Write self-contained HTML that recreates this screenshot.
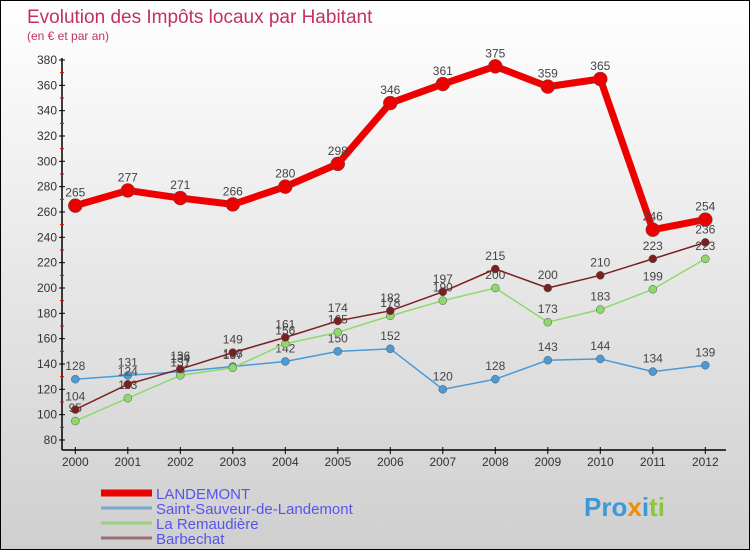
<!DOCTYPE html>
<html><head><meta charset="utf-8"><style>
body{margin:0;width:750px;height:550px;overflow:hidden;font-family:"Liberation Sans",sans-serif}
#wrap{position:relative;width:748px;height:548px;border:1px solid #000;background:linear-gradient(#ffffff,#cfcfcf)}
</style></head><body>
<div id="wrap">
<svg id="chart" width="748" height="548">
<text x="26" y="22" font-size="19" fill="#c0335e">Evolution des Impôts locaux par Habitant</text>
<text x="26" y="39" font-size="12" fill="#c0335e">(en € et par an)</text>
<g id="axes"></g><g id="series"></g><g id="legend"></g>
<text x="583" y="515" font-size="26" font-weight="bold" fill="#3a9ad9">Pro<tspan fill="#f08c00">x</tspan><tspan fill="#3a9ad9">i</tspan><tspan fill="#8cc63f">ti</tspan></text>
</svg></div>
<script>
const years=[2000,2001,2002,2003,2004,2005,2006,2007,2008,2009,2010,2011,2012];
const landemont=[265,277,271,266,280,298,346,361,375,359,365,246,254];
const saintSauveur=[128,131,134,138,142,150,152,120,128,143,144,134,139];
const remaudiere=[95,113,131,137,156,165,178,190,200,173,183,199,223];
const barbechat=[104,124,136,149,161,174,182,197,215,200,210,223,236];
const yTicks=[80,100,120,140,160,180,200,220,240,260,280,300,320,340,360,380];
const NS="http://www.w3.org/2000/svg";
function X(i){return 74.3+i*52.5;}
function Y(v){return 439-(v-80)*380/300;}
function mk(t,a,p){const e=document.createElementNS(NS,t);for(const k in a)e.setAttribute(k,a[k]);p.appendChild(e);return e;}
const ax=document.getElementById('axes');
const yl=mk('line',{x1:61,y1:Y(380)-2,x2:61,y2:449,stroke:'#000','stroke-width':1.5},ax);


const xl=mk('line',{x1:61,y1:449,x2:725,y2:449,stroke:'#000','stroke-width':1.5},ax);


yTicks.forEach((v,i)=>{
 mk('line',{x1:58,y1:Y(v),x2:64,y2:Y(v),stroke:'#000'},ax);
 if(i<yTicks.length-1)mk('line',{x1:59,y1:Y(v+10),x2:63,y2:Y(v+10),stroke:'#e00'},ax);
 const t=mk('text',{x:56,y:Y(v)+4,'font-size':12,'text-anchor':'end',fill:'#333'},ax);
 t.textContent=v;
 
 
});
years.forEach((y,i)=>{
 mk('line',{x1:X(i),y1:446,x2:X(i),y2:453,stroke:'#000'},ax);
 const t=mk('text',{x:X(i),y:465,'font-size':12,'text-anchor':'middle',fill:'#333'},ax);
 t.textContent=y;
 
 
});
const sg=document.getElementById('series');
function series(data,color,w,r,name,labelColor){
 const g=mk('g',{},sg);
 
 
 mk('polyline',{points:data.map((v,i)=>X(i)+','+Y(v)).join(' '),fill:'none',stroke:color,'stroke-width':w,'stroke-linejoin':'round'},g);
 data.forEach((v,i)=>{
  const c=mk('circle',{cx:X(i),cy:Y(v),r:r,fill:color,stroke:'#555','stroke-width':0.5},g);
  
  
  const t=mk('text',{x:X(i),y:Y(v)-9,'font-size':12,'text-anchor':'middle',fill:'#444'},g);
  t.textContent=v;
  
  
 });
}
series(saintSauveur,'#4a9ad6',1.5,4,'saint-sauveur-series');
series(remaudiere,'#8fd96a',1.5,4,'la-remaudiere-series');
series(barbechat,'#7a2020',1.5,4,'barbechat-series');
series(landemont,'#ee0000',7,7,'landemont-series');
const lg=document.getElementById('legend');
const names=['LANDEMONT','Saint-Sauveur-de-Landemont','La Remaudière','Barbechat'];
const cols=['#ee0000','#7aa8cc','#99d27a','#987070'];
const ws=[7,3,3,3];
names.forEach((n,i)=>{
 const y=492+i*15;
 const g=mk('g',{},lg);
 
 
 mk('line',{x1:100,y1:y,x2:151,y2:y,stroke:cols[i],'stroke-width':ws[i]},g);
 const t=mk('text',{x:155,y:y+6,'font-size':15,fill:'#5555ee'},g);
 t.textContent=n;
});
</script>
</body></html>
